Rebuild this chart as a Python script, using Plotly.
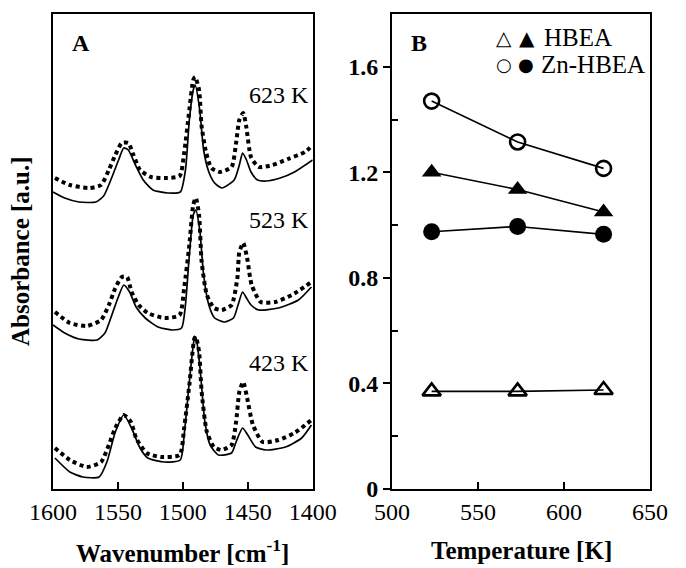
import plotly.graph_objects as go

# ---------------- Panel A: IR spectra (wavenumber, absorbance a.u.) ----------------
wn_623_dot = [1598.5, 1587, 1572, 1563, 1557, 1552, 1547, 1542, 1538, 1533, 1524.5, 1514, 1502.5, 1499, 1495, 1492,
              1490.5, 1487.5, 1485.5, 1482, 1478, 1471.5, 1462.5, 1459, 1456.5, 1453.5, 1451, 1447.5, 1441.5, 1431,
              1419, 1406, 1400]
abs_623_dot = [3.11, 3.04, 3.01, 3.04, 3.19, 3.34, 3.46, 3.46, 3.34, 3.19, 3.12, 3.11, 3.13, 3.36, 3.79, 4.09,
               4.12, 3.99, 3.62, 3.36, 3.21, 3.17, 3.22, 3.46, 3.69, 3.76, 3.61, 3.32, 3.22, 3.24,
               3.30, 3.37, 3.44]
wn_623_sol = [1600, 1591, 1580, 1567, 1561, 1555.5, 1549.5, 1545.5, 1542, 1536.5, 1530.5, 1523, 1511.5, 1502, 1498,
              1495, 1492, 1490.5, 1487, 1484, 1480, 1475.5, 1470, 1460.5, 1456.5, 1454, 1451, 1447.5, 1442.5, 1436,
              1425, 1414, 1400]
abs_623_sol = [2.97, 2.91, 2.87, 2.87, 2.93, 3.09, 3.29, 3.41, 3.39, 3.24, 3.09, 2.99, 2.96, 2.97, 3.19,
               3.69, 3.99, 4.04, 3.79, 3.39, 3.17, 3.06, 3.01, 3.09, 3.24, 3.36, 3.29, 3.17, 3.09, 3.08,
               3.11, 3.17, 3.29]

wn_523_dot = [1598.5, 1587, 1574, 1563, 1557, 1552, 1547, 1543, 1539.5, 1534, 1527, 1514, 1502.5, 1499, 1495, 1492,
              1490, 1487.5, 1485.5, 1481.5, 1476, 1470, 1462.5, 1458, 1456.5, 1453.5, 1450.5, 1447, 1440, 1429,
              1416, 1401]
abs_523_dot = [1.77, 1.66, 1.63, 1.69, 1.84, 2.01, 2.12, 2.12, 1.97, 1.84, 1.76, 1.71, 1.74, 2.01, 2.44, 2.84,
               2.91, 2.74, 2.27, 1.94, 1.81, 1.79, 1.84, 2.11, 2.37, 2.46, 2.31, 2.04, 1.87, 1.87,
               1.94, 2.07]
wn_523_sol = [1600, 1591, 1580, 1566, 1560, 1555.5, 1550, 1545.5, 1541, 1536, 1529, 1519, 1508, 1501, 1498,
              1495, 1492, 1490, 1487, 1484, 1480, 1475.5, 1468, 1461, 1457.5, 1454, 1451, 1447.5, 1441.5, 1426.5,
              1411, 1401]
abs_523_sol = [1.64, 1.56, 1.50, 1.49, 1.56, 1.71, 1.91, 2.04, 1.97, 1.82, 1.71, 1.62, 1.59, 1.61, 1.84,
               2.34, 2.74, 2.79, 2.59, 2.14, 1.84, 1.71, 1.67, 1.71, 1.84, 1.97, 1.91, 1.84, 1.79, 1.81,
               1.89, 2.02]

wn_423_dot = [1598.5, 1587, 1574, 1563, 1557, 1552, 1545.5, 1540, 1536, 1528, 1517, 1502.5, 1499, 1495, 1491,
              1490, 1487.5, 1485.5, 1481.5, 1476, 1470, 1462.5, 1459, 1456.5, 1453.5, 1450.5, 1446, 1438.5,
              1426.5, 1414, 1401]
abs_423_dot = [0.41, 0.29, 0.22, 0.27, 0.44, 0.61, 0.74, 0.67, 0.51, 0.36, 0.32, 0.34, 0.61, 1.04, 1.51,
               1.52, 1.37, 0.97, 0.57, 0.42, 0.39, 0.44, 0.67, 0.97, 1.07, 0.91, 0.64, 0.47,
               0.49, 0.56, 0.69]
wn_423_sol = [1598.5, 1587, 1577, 1564.5, 1558.5, 1552, 1545.5, 1539.5, 1533, 1527, 1514, 1502, 1499, 1495,
              1491, 1490, 1487, 1483, 1479, 1472.5, 1462.5, 1459, 1454, 1450, 1444, 1436, 1421, 1408.5, 1401]
abs_423_sol = [0.31, 0.17, 0.12, 0.12, 0.27, 0.57, 0.74, 0.61, 0.41, 0.31, 0.27, 0.29, 0.54, 1.07,
               1.51, 1.52, 1.24, 0.67, 0.44, 0.34, 0.36, 0.47, 0.61, 0.54, 0.42, 0.39, 0.42, 0.51, 0.64]

spectra_labels = ["623 K", "523 K", "423 K"]
label_y = [3.94, 2.69, 1.26]

# ---------------- Panel B: absorbance vs temperature ----------------
temps = [523, 573, 623]
hbea_open = [0.37, 0.37, 0.375]
hbea_filled = [1.20, 1.135, 1.05]
zn_open = [1.47, 1.315, 1.215]
zn_filled = [0.975, 0.995, 0.965]

y_tickvals = [0, 0.4, 0.8, 1.2, 1.6]
y_ticktext = ["0", "0.4", "0.8", "1.2", "1.6"]
x_tickvals = [500, 550, 600, 650]
a_tickvals = [1600, 1550, 1500, 1450, 1400]

FONT = "Liberation Serif"
BLACK = "black"

fig = go.Figure()

dot_style = dict(color=BLACK, width=4, dash="4px,3.5px")
sol_style = dict(color=BLACK, width=1.7)
for wx, ay, st in [(wn_623_dot, abs_623_dot, dot_style), (wn_623_sol, abs_623_sol, sol_style),
                   (wn_523_dot, abs_523_dot, dot_style), (wn_523_sol, abs_523_sol, sol_style),
                   (wn_423_dot, abs_423_dot, dot_style), (wn_423_sol, abs_423_sol, sol_style)]:
    fig.add_trace(go.Scatter(x=wx, y=ay, mode="lines", line=dict(shape="spline", smoothing=0.6, **st),
                             xaxis="x", yaxis="y", showlegend=False, hoverinfo="skip"))

mk_line = dict(color=BLACK, width=1.6)
fig.add_trace(go.Scatter(x=temps, y=zn_open, mode="lines+markers", line=mk_line,
                         marker=dict(symbol="circle-open", size=15, color=BLACK, line=dict(width=2.6)),
                         xaxis="x2", yaxis="y2", showlegend=False))
fig.add_trace(go.Scatter(x=temps, y=hbea_filled, mode="lines+markers", line=mk_line,
                         marker=dict(symbol="triangle-up", size=17, color=BLACK),
                         xaxis="x2", yaxis="y2", showlegend=False))
fig.add_trace(go.Scatter(x=temps, y=zn_filled, mode="lines+markers", line=mk_line,
                         marker=dict(symbol="circle", size=17, color=BLACK),
                         xaxis="x2", yaxis="y2", showlegend=False))
fig.add_trace(go.Scatter(x=temps, y=hbea_open, mode="lines+markers", line=mk_line,
                         marker=dict(symbol="triangle-up-open", size=16, color=BLACK, line=dict(width=2.6)),
                         xaxis="x2", yaxis="y2", showlegend=False))

axis_common = dict(showline=True, linecolor=BLACK, linewidth=2, mirror=True, showgrid=False, zeroline=False)
tickfont = dict(family=FONT, size=24, color=BLACK)

annotations = []
for txt, yy in zip(spectra_labels, label_y):
    annotations.append(dict(x=1401, y=yy, xref="x", yref="y", text=txt, showarrow=False, xanchor="right",
                            font=dict(family=FONT, size=24, color=BLACK)))
annotations += [
    dict(x=0.106, y=0.939, xref="x domain", yref="y domain", text="<b>A</b>", showarrow=False,
         xanchor="center", yanchor="middle", font=dict(family=FONT, size=24, color=BLACK)),
    dict(x=0.106, y=0.939, xref="x2 domain", yref="y2 domain", text="<b>B</b>", showarrow=False,
         xanchor="center", yanchor="middle", font=dict(family=FONT, size=24, color=BLACK)),
    dict(x=0.5, y=-0.13, xref="x domain", yref="y domain", text="<b>Wavenumber [cm<sup>-1</sup>]</b>",
         showarrow=False, yanchor="middle", font=dict(family=FONT, size=25, color=BLACK)),
    dict(x=0.5, y=-0.13, xref="x2 domain", yref="y2 domain", text="<b>Temperature [K]</b>",
         showarrow=False, yanchor="middle", font=dict(family=FONT, size=25, color=BLACK)),
    dict(x=-0.125, y=0.5, xref="x domain", yref="y domain", text="<b>Absorbance [a.u.]</b>", textangle=-90,
         showarrow=False, xanchor="center", font=dict(family=FONT, size=25, color=BLACK)),
    # legend of panel B
    dict(x=565, y=1.71, xref="x2", yref="y2", text="△", showarrow=False,
         font=dict(family="DejaVu Sans", size=20, color=BLACK)),
    dict(x=578.5, y=1.71, xref="x2", yref="y2", text="▲", showarrow=False,
         font=dict(family="DejaVu Sans", size=20, color=BLACK)),
    dict(x=587, y=1.71, xref="x2", yref="y2", text="HBEA", showarrow=False, xanchor="left",
         font=dict(family=FONT, size=25, color=BLACK)),
    dict(x=565, y=1.61, xref="x2", yref="y2", text="○", showarrow=False,
         font=dict(family="DejaVu Sans", size=18, color=BLACK)),
    dict(x=578, y=1.61, xref="x2", yref="y2", text="●", showarrow=False,
         font=dict(family="DejaVu Sans", size=18, color=BLACK)),
    dict(x=585.5, y=1.61, xref="x2", yref="y2", text="Zn-HBEA", showarrow=False, xanchor="left",
         font=dict(family=FONT, size=25, color=BLACK)),
]

fig.update_layout(
    width=686, height=568,
    margin=dict(l=53, r=24, t=14, b=79),
    paper_bgcolor="white", plot_bgcolor="white",
    showlegend=False,
    xaxis=dict(domain=[0, 0.435], range=[1600, 1400], tickvals=a_tickvals, ticks="inside", ticklen=7,
               tickwidth=1.5, tickcolor=BLACK, tickfont=tickfont, **axis_common),
    yaxis=dict(domain=[0, 1], range=[0, 4.75], showticklabels=False, ticks="", **axis_common),
    xaxis2=dict(domain=[0.568, 1], range=[500, 650], tickvals=x_tickvals, ticks="inside", ticklen=7,
                tickwidth=1.5, tickcolor=BLACK, tickfont=tickfont, anchor="y2", **axis_common),
    yaxis2=dict(domain=[0, 1], range=[0, 1.8], tickvals=y_tickvals, ticktext=y_ticktext, ticks="outside",
                ticklen=7, tickwidth=1.5, tickcolor=BLACK, anchor="x2",
                tickfont=dict(family=FONT, size=24, color=BLACK, weight="bold"),
                minor=dict(tickvals=[0.2, 0.6, 1.0, 1.4], ticks="inside", ticklen=6, tickwidth=1.5,
                           tickcolor=BLACK),
                **axis_common),
    annotations=annotations,
)

fig.write_html("out.html")
